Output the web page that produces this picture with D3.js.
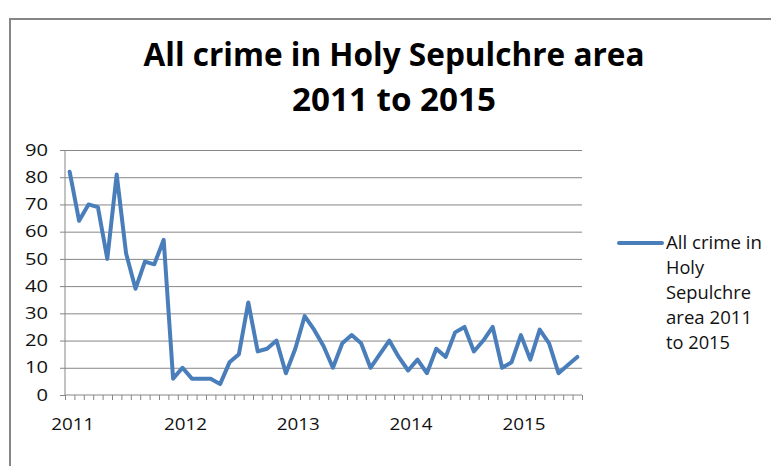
<!DOCTYPE html>
<html>
<head>
<meta charset="utf-8">
<script src="https://cdn.jsdelivr.net/npm/d3@7"></script>
<style>
  html, body { margin: 0; padding: 0; background: #fff; }
  svg { display: block; font-family: "Open Sans", "Noto Sans", sans-serif; }
</style>
</head>
<body>
<svg id="chart" width="771" height="466"></svg>
<script>
// Monthly counts, January 2011 to July 2015
const firstMonth = new Date(2011, 0, 1);
const crimeCounts = [
  82, 64, 70, 69, 50, 81, 52, 39, 49, 48, 57, 6,
  10, 6, 6, 6, 4, 12, 15, 34, 16, 17, 20, 8,
  17, 29, 24, 18, 10, 19, 22, 19, 10, 15, 20, 14,
  9, 13, 8, 17, 14, 23, 25, 16, 20, 25, 10, 12,
  22, 13, 24, 19, 8, 11, 14
];
const yearLabels = ["2011", "2012", "2013", "2014", "2015"];
const yTicks = [0, 10, 20, 30, 40, 50, 60, 70, 80, 90];
const titleLines = ["All crime in Holy Sepulchre area", "2011 to 2015"];
const legendLines = ["All crime in", "Holy", "Sepulchre", "area 2011", "to 2015"];

const months = crimeCounts.map((_, i) => d3.timeMonth.offset(firstMonth, i));
const fmtYear = d3.timeFormat("%Y");

const svg = d3.select("#chart");
const plot = { left: 65, right: 582, top: 150, bottom: 395 };
const gridColor = "#868686";
const lineColor = "#4A7EBB";
const textColor = "#111";

// stretch a text node to a given width
function fit(sel, w) {
  sel.attr("textLength", w).attr("lengthAdjust", "spacingAndGlyphs");
}

// chart frame
svg.append("path")
  .attr("d", "M10,466 V19 H771")
  .attr("fill", "none")
  .attr("stroke", gridColor)
  .attr("stroke-width", 2);

// title
const titleWidths = [501, 204];
const titleBase = [66, 111];
titleLines.forEach((t, i) => {
  svg.append("text")
    .attr("x", 394).attr("y", titleBase[i])
    .attr("text-anchor", "middle")
    .attr("font-size", 33).attr("font-weight", 700)
    .attr("fill", "#000")
    .text(t)
    .call(fit, titleWidths[i]);
});

const x = d3.scaleBand().domain(d3.range(crimeCounts.length)).range([plot.left, plot.right]);
const xEdge = d3.scaleLinear().domain([0, crimeCounts.length]).range([plot.left, plot.right]);
const y = d3.scaleLinear().domain([0, 90]).range([plot.bottom, plot.top]);

// horizontal gridlines
svg.append("g")
  .attr("transform", `translate(${plot.left},0)`)
  .call(d3.axisLeft(y).tickValues(yTicks.slice(1)).tickSize(-(plot.right - plot.left)).tickFormat(""))
  .call(g => g.select(".domain").remove())
  .call(g => g.selectAll("line").attr("stroke", gridColor).attr("stroke-width", 1));

// y axis
const yAxis = svg.append("g")
  .attr("transform", `translate(${plot.left},0)`)
  .call(d3.axisLeft(y).tickValues(yTicks).tickSize(5).tickPadding(12).tickFormat(d3.format("d")));
yAxis.select(".domain").attr("stroke", gridColor).attr("d", `M0,${plot.top}V${plot.bottom}`);
yAxis.selectAll(".tick line").attr("stroke", gridColor);
yAxis.selectAll(".tick text")
  .attr("font-size", 16).attr("fill", textColor).attr("font-family", "Open Sans")
  .each(function (d) { d3.select(this).call(fit, String(d).length * 11.5); });

// x axis: tick marks on month boundaries
const xAxis = svg.append("g")
  .attr("transform", `translate(0,${plot.bottom})`)
  .call(d3.axisBottom(xEdge).tickValues(d3.range(crimeCounts.length + 1)).tickSize(5).tickFormat(""));
xAxis.select(".domain").attr("stroke", gridColor).attr("d", `M${plot.left},0H${plot.right}`);
xAxis.selectAll(".tick line").attr("stroke", gridColor);

// year labels under each January
const janIdx = months.map((m, i) => i).filter(i => months[i].getMonth() === 0);
svg.append("g")
  .selectAll("text")
  .data(janIdx)
  .join("text")
  .attr("x", i => x(i) + x.bandwidth() / 2 + 3)
  .attr("y", 430)
  .attr("text-anchor", "middle")
  .attr("font-size", 16).attr("fill", textColor)
  .text(i => yearLabels[yearLabels.indexOf(fmtYear(months[i]))])
  .each(function () { d3.select(this).call(fit, 43); });

// data line
const line = d3.line()
  .x((d, i) => x(i) + x.bandwidth() / 2)
  .y(d => y(d));
svg.append("path")
  .datum(crimeCounts)
  .attr("d", line)
  .attr("fill", "none")
  .attr("stroke", lineColor)
  .attr("stroke-width", 4)
  .attr("stroke-linejoin", "round")
  .attr("stroke-linecap", "round");

// legend
svg.append("line")
  .attr("x1", 619).attr("x2", 662)
  .attr("y1", 243).attr("y2", 243)
  .attr("stroke", lineColor).attr("stroke-width", 4)
  .attr("stroke-linecap", "round");
const legendWidths = [96, 38, 85, 86, 64];
legendLines.forEach((t, i) => {
  svg.append("text")
    .attr("x", 666).attr("y", 249 + i * 25)
    .attr("font-size", 18).attr("fill", textColor)
    .text(t)
    .call(fit, legendWidths[i]);
});
</script>
</body>
</html>
